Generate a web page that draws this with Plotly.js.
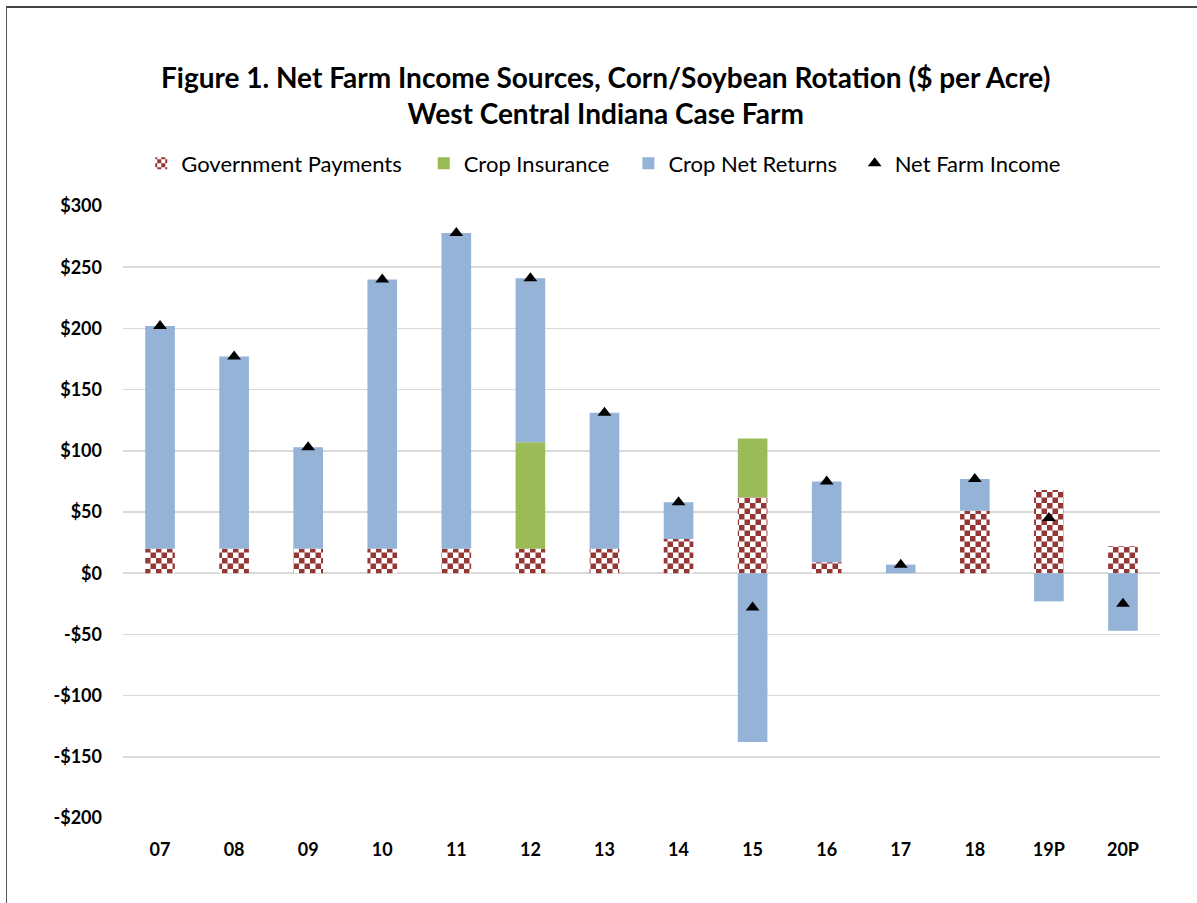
<!DOCTYPE html>
<html>
<head>
<meta charset="utf-8">
<script src="https://cdn.plot.ly/plotly-3.0.1.min.js"></script>
<style>
html,body{margin:0;padding:0;background:#fff;overflow:hidden;}
#wrap{position:relative;width:1197px;height:903px;overflow:hidden;}
#chart{position:absolute;left:0;top:0;width:1197px;height:903px;}
#frame{position:absolute;left:6px;top:6px;width:1300px;height:1000px;border-top:2px solid #444;border-left:1.5px solid #555;pointer-events:none;}
</style>
</head>
<body>
<div id="wrap"><div id="chart"></div><div id="frame"></div></div>
<script>
var years = ['07','08','09','10','11','12','13','14','15','16','17','18','19P','20P'];
var govPayments = [20, 20, 20, 20, 20, 20, 20, 28, 62, 9, 0, 51, 68, 22];
var cropInsurance = [0, 0, 0, 0, 0, 87, 0, 0, 48, 0, 0, 0, 0, 0];
var cropNetReturns = [182, 157, 83, 220, 258, 134, 111, 30, -138, 66, 7, 26, -23, -47];
var netFarmIncome = [202, 177, 103, 240, 278, 241, 131, 58, -28, 75, 7, 77, 45, -25];
var yTickVals = [-200, -150, -100, -50, 0, 50, 100, 150, 200, 250, 300];
var yTickText = ['-$200', '-$150', '-$100', '-$50', '$0', '$50', '$100', '$150', '$200', '$250', '$300'];

var FONT = 'Lato, "Open Sans", sans-serif';
var RED = '#953735';

var traces = [
  {type:'bar', name:'Government Payments', x:years, y:govPayments, legend:'legend',
   marker:{color:'#ffffff', pattern:{shape:'+', fgcolor:RED, bgcolor:'#ffffff', size:11, solidity:0.5}, line:{width:0}}},
  {type:'bar', name:'Crop Insurance', x:years, y:cropInsurance, legend:'legend2',
   marker:{color:'#9BBB59', line:{width:0}}},
  {type:'bar', name:'Crop Net Returns', x:years, y:cropNetReturns, legend:'legend3',
   marker:{color:'#95B3D7', line:{width:0}}},
  {type:'scatter', mode:'markers', name:'Net Farm Income', x:years, y:netFarmIncome, legend:'legend4',
   marker:{symbol:'triangle-up', color:'#000000', size:12}}
];

function leg(x){
  return {orientation:'h', x:x, xref:'container', xanchor:'left', y:0.819, yref:'container', yanchor:'middle',
          font:{family:FONT, size:22, color:'#000'}, itemwidth:30, bgcolor:'rgba(0,0,0,0)'};
}

var layout = {
  width:1197, height:903,
  paper_bgcolor:'#ffffff', plot_bgcolor:'#ffffff',
  margin:{l:123, r:37, t:206, b:85, autoexpand:false},
  barmode:'relative', bargap:0.6,
  font:{family:FONT, color:'#000'},
  title:{text:'<b>Figure 1. Net Farm Income Sources, Corn/Soybean Rotation ($ per Acre)</b><br><b>West Central Indiana Case Farm</b>',
         x:0.506, xanchor:'center', xref:'container', y:0.903, yanchor:'middle', yref:'container',
         font:{family:FONT, size:28, color:'#000'}},
  showlegend:true,
  legend:leg(0.118),
  legend2:leg(0.354),
  legend3:leg(0.525),
  legend4:leg(0.714),
  xaxis:{type:'category', range:[-0.5, years.length - 0.5], automargin:false, showgrid:false, zeroline:false, showline:false, ticks:'',
         ticklabelstandoff:19, tickfont:{family:FONT, size:18, color:'#000', weight:'bold'}},
  yaxis:{range:[-200,300], automargin:false, tickvals:yTickVals, ticktext:yTickText, showgrid:true, gridcolor:'#d9d9d9', gridwidth:1.5,
         zeroline:true, zerolinecolor:'#d9d9d9', zerolinewidth:1.5, showline:false, ticks:'',
         ticklabelstandoff:20, tickfont:{family:FONT, size:18, color:'#000', weight:'bold'}}
};

function checker(gd){
  var pats = gd.querySelectorAll('pattern');
  pats.forEach(function(p){
    var w = parseFloat(p.getAttribute('width')) || 11;
    var h = w/2;
    var path = p.querySelector('path');
    if(path){
      path.setAttribute('d','M0,0h'+h+'v'+h+'h-'+h+'z M'+h+','+h+'h'+h+'v'+h+'h-'+h+'z');
      path.setAttribute('style','fill:'+RED+';stroke:none;');
    }
  });
}

var gd = document.getElementById('chart');
Plotly.newPlot(gd, traces, layout, {staticPlot:true, displayModeBar:false}).then(function(){
  checker(gd);
  gd.on && gd.on('plotly_afterplot', function(){checker(gd);});
});
</script>
</body>
</html>
